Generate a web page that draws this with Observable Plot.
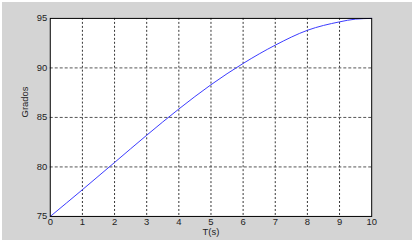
<!DOCTYPE html>
<html>
<head>
<meta charset="utf-8">
<script src="https://cdn.jsdelivr.net/npm/d3@7"></script>
<script src="https://cdn.jsdelivr.net/npm/@observablehq/plot@0.6"></script>
<style>
html,body{margin:0;padding:0;background:#fff;}
#wrap{position:absolute;left:2px;top:2px;width:410px;height:238px;background:#d4d4d4;}
#chart{position:absolute;left:-2px;top:-2px;}
</style>
</head>
<body>
<div id="wrap"><div id="chart"></div></div>
<script>
const time = [0, 1, 2, 3, 4, 5, 6, 7, 8, 9, 9.5, 10];
const grados = [75, 77.7, 80.45, 83.2, 85.85, 88.3, 90.45, 92.3, 93.8, 94.65, 94.93, 95];
const xTicks = [0,1,2,3,4,5,6,7,8,9,10];
const yTicks = [75,80,85,90,95];
const xLabel = "T(s)";
const yLabel = "Grados";

const data = time.map((t,i)=>({t, g: grados[i]}));

const chart = Plot.plot({
  width: 414,
  height: 243,
  marginLeft: 50,
  marginRight: 41,
  marginTop: 18,
  marginBottom: 26,
  style: {background: "transparent", fontFamily: "Liberation Sans, Arial, sans-serif", fontSize: "9.5px", color: "#222"},
  x: {domain: [0,10], ticks: xTicks, label: null},
  y: {domain: [75,95], ticks: yTicks, label: null},
  marks: [
    Plot.frame({fill: "#fff", stroke: "none"}),
    Plot.ruleX(xTicks.slice(1,-1), {stroke: "#333", strokeDasharray: "2,2", strokeWidth: 1}),
    Plot.ruleY(yTicks.slice(1,-1), {stroke: "#555", strokeDasharray: "3,2", strokeWidth: 1}),
    Plot.line(data, {x: "t", y: "g", stroke: "#3a3aff", strokeWidth: 1, curve: "monotone-x"}),
    Plot.frame({stroke: "#000", strokeWidth: 1}),
    Plot.axisX(xTicks, {tickSize: 0, tickPadding: 2, label: null, fill: "#222", fontSize: 9.5}),
    Plot.axisY(yTicks, {tickSize: 0, tickPadding: 3, label: null, fill: "#222", fontSize: 9.5}),
    Plot.text([xLabel], {frameAnchor: "bottom", lineAnchor: "top", dy: 12, fill: "#222", fontSize: 9.5}),
    Plot.text([yLabel], {frameAnchor: "left", dx: -25, rotate: -90, fill: "#222", fontSize: 9.5})
  ]
});
document.getElementById("chart").appendChild(chart);
</script>
</body>
</html>
